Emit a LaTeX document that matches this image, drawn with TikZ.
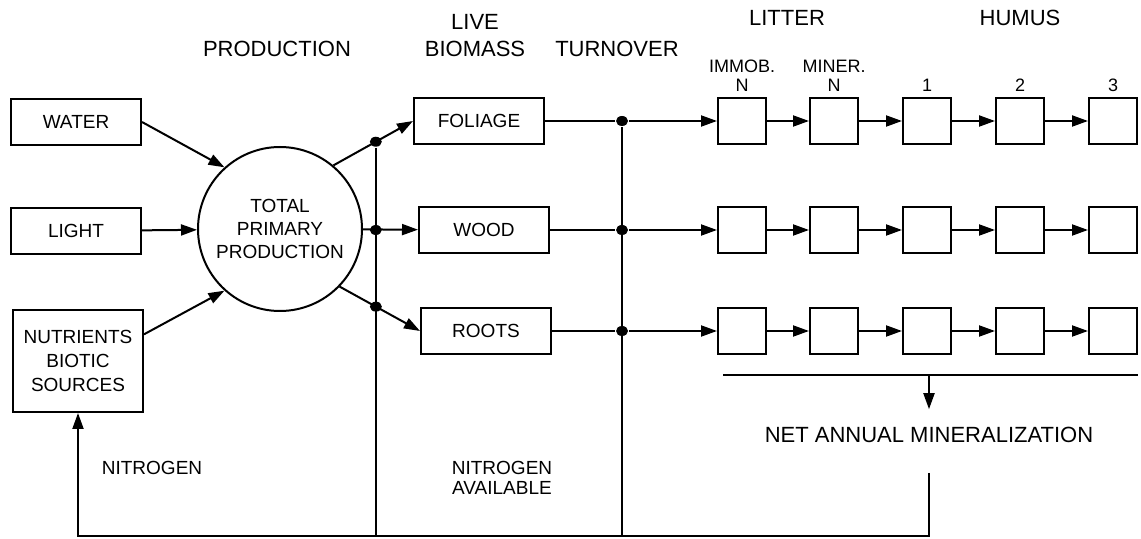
\documentclass[tikz,border=0pt]{standalone}
\usepackage{fontspec}
\setmainfont{Liberation Sans}
\usetikzlibrary{arrows.meta,positioning,calc,shapes.geometric}

\begin{document}
\begin{tikzpicture}[x=0.5pt, y=-0.5pt, line width=1pt,
    font=\fontsize{9.5}{12}\selectfont,
    box/.style={draw, minimum width=65pt, minimum height=23pt, align=center, inner sep=2pt},
    pool/.style={draw, minimum width=24pt, minimum height=23pt},
    head/.style={font=\fontsize{11}{13.5}\selectfont, align=center},
    lab/.style={font=\fontsize{9}{9.5}\selectfont, align=center, inner sep=0pt},
    dot/.style={ellipse, fill, inner sep=0pt, minimum width=6pt, minimum height=5pt},
    arr/.style={-{Triangle[length=8pt,width=5.5pt]}}]
\useasboundingbox (0,0) rectangle (1141,539);

\node[head] (prod) at (277,49) {PRODUCTION};
\node[head] (live) at (475,35.5) {LIVE\\BIOMASS};
\node[head] (turn) at (617,49) {TURNOVER};
\node[head] (litter) at (787,18) {LITTER};
\node[head] (humus) at (1020,18) {HUMUS};

\node[box] (water) at (76,122) {WATER};
\node[box] (light) at (76,231) {LIGHT};
\node[box, minimum height=51pt] (nutr) at (78,361) {NUTRIENTS\\BIOTIC\\SOURCES};
\node[draw, circle, minimum size=82pt, align=center, font=\fontsize{9.5}{11.5}\selectfont]
    (tpp) at (280,229) {TOTAL\\PRIMARY\\PRODUCTION};

\node[box] (foliage) at (479,121) {FOLIAGE};
\node[box] (wood) at (484,230) {WOOD};
\node[box] (roots) at (486,331) {ROOTS};

\draw[arr] (water.east) -- (tpp.132);
\draw[arr] (light) -- (tpp);
\draw[arr] (nutr.22) -- (tpp.-132);

\draw[arr] (tpp.50) -- node[dot, pos=0.533] (d1) {} (foliage.west);
\draw[arr] (tpp) -- (wood);
\node[dot] (d2) at (d1 |- wood) {};
\draw[arr] (tpp.-44) -- node[dot, pos=0.451] (d3) {} (roots.west);

\foreach \r/\y in {1/121, 2/230, 3/331} {
    \foreach \c/\xpos in {1/742, 2/834, 3/927, 4/1020, 5/1113}
        \node[pool] (p\r-\c) at (\xpos,\y) {};
    \foreach \c [evaluate=\c as \n using int(\c+1)] in {1,...,4}
        \draw[arr] (p\r-\c) -- (p\r-\n);
}
\foreach \r/\name/\y in {1/foliage/121, 2/wood/230, 3/roots/331} {
    \node[dot] (t\r) at (622,\y) {};
    \draw (\name) -- (t\r);
    \draw[arr] (t\r) -- (p\r-1);
}

\node[lab, above=2pt of p1-1] (immob) {IMMOB.\\N};
\node[lab, above=2pt of p1-2] (miner) {MINER.\\N};
\node[lab, above=2pt of p1-3] (h1) {1};
\node[lab, above=2pt of p1-4] (h2) {2};
\node[lab, above=2pt of p1-5] (h3) {3};

\coordinate (ml) at (723,375);
\coordinate (mr) at (1138,375);
\draw (ml) -- (mr);
\node[head, inner xsep=0pt, inner ysep=8.5pt] (net) at (929,435) {NET ANNUAL MINERALIZATION};
\draw[arr] (ml -| net.north) -- (net.north);

\coordinate (base) at (929,536);
\draw[arr, shorten <=6pt] (net.south) -- (base) -| (nutr.south);
\draw (d1) -- (d1 |- base);
\draw (t1) -- (t1 |- base);

\node[lab, font=\fontsize{9.5}{10}\selectfont] (nit) at (152,468) {NITROGEN};
\node[lab, font=\fontsize{9.5}{10}\selectfont] (nav) at (502,478) {NITROGEN\\AVAILABLE};
\end{tikzpicture}
\end{document}
